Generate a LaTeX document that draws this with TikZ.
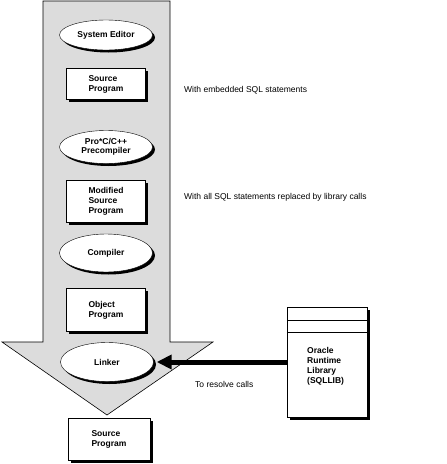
\documentclass[tikz,border=0pt]{standalone}
\usepackage{fontspec}
\setmainfont{Liberation Sans}
\usetikzlibrary{shadows,arrows.meta}
\definecolor{arrowgray}{HTML}{DCDCDC}
\tikzset{
  x=1pt, y=-1pt,
  shad/.style={drop shadow={shadow xshift=2.5pt, shadow yshift=-2.5pt, fill=black, opacity=1}},
  tool/.style={ellipse, draw, fill=white, shad, minimum width=93pt, minimum height=30pt, inner sep=0pt, font=\fontsize{8.5}{9.5}\selectfont\bfseries, align=center},
  file/.style={rectangle, draw, fill=white, shad, minimum width=79pt, inner sep=0pt, font=\fontsize{8.5}{10}\selectfont\bfseries, align=left},
  note/.style={anchor=west, inner sep=0pt, font=\fontsize{8.5}{10}\selectfont}
}
\usetikzlibrary{shapes.geometric}
\begin{document}
\begin{tikzpicture}
\useasboundingbox (0,0) rectangle (447,464);
% big arrow
\draw[fill=arrowgray, line width=0.6pt] (43,1) -- (170,1) -- (170,342) -- (213,342) -- (107,415) -- (2,342) -- (43,342) -- cycle;
% nodes
\node[tool] (editor) at (106,35) {System Editor};
\node[file, minimum height=31pt] (src) at (106,84) {Source\\Program};
\node[tool, minimum height=33pt] (pre) at (106,147) {Pro*C/C++\\Precompiler};
\node[file, minimum height=42pt] (mod) at (106,201) {Modified\\Source\\Program};
\node[tool, minimum height=38pt] (comp) at (106,253) {Compiler};
\node[file, minimum height=43pt] (obj) at (106,310) {Object\\Program};
\node[tool, minimum height=39pt] (link) at (107,362) {Linker};
\node[file, minimum height=42pt, minimum width=82pt] (out) at (109,439) {Source\\Program};
% library
\node[rectangle, draw, fill=white, shad, minimum width=80pt, minimum height=110pt, inner sep=0pt] (lib) at (327,362) {};
\draw (lib.north west) ++(0,13) coordinate (l1a) -- (l1a -| lib.east);
\draw (lib.north west) ++(0,25) coordinate (l2a) -- (l2a -| lib.east);
\node[anchor=north west, inner sep=0pt, font=\fontsize{8.5}{10}\selectfont\bfseries, align=left] (libtxt) at (307,347) {Oracle\\Runtime\\Library\\(SQLLIB)};
% thick arrow
\draw[line width=5pt, -{Triangle[length=15pt, width=14pt]}] (lib.west |- link) -- ([xshift=3pt]link.east);
% notes
\node[note] (n1) at (184,90) {With embedded SQL statements};
\node[note] (n2) at (184,197) {With all SQL statements  replaced by library calls};
\node[note] (n3) at (195,384) {To resolve calls};
\end{tikzpicture}
\end{document}
